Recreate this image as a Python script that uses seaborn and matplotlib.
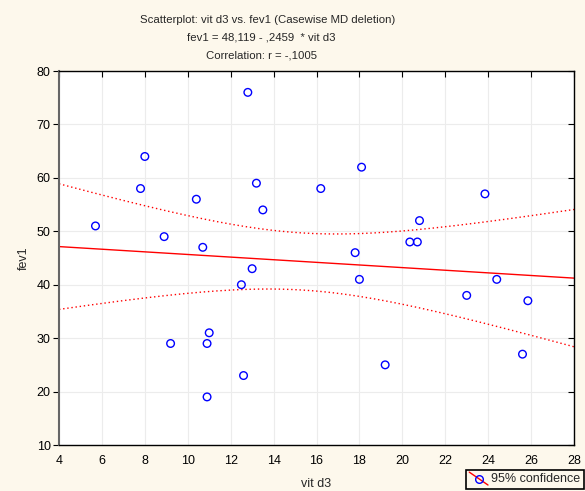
import numpy as np
import matplotlib
matplotlib.use("Agg")
import matplotlib.pyplot as plt
import seaborn as sns
from matplotlib.lines import Line2D
from matplotlib.legend_handler import HandlerBase

# Data
vit_d3 = [5.7, 7.8, 8.0, 8.9, 9.2, 10.4, 10.7, 10.9, 11.0, 10.9, 12.5, 12.6, 12.8, 13.0, 13.2,
          13.5, 16.2, 17.8, 18.0, 18.1, 19.2, 20.35, 20.7, 20.8, 23.0, 23.85, 24.4, 25.6, 25.85]
fev1 = [51, 58, 64, 49, 29, 56, 47, 29, 31, 19, 40, 23, 76, 43, 59,
        54, 58, 46, 41, 62, 25, 48, 48, 52, 38, 57, 41, 27, 37]
x_ticks = [4, 6, 8, 10, 12, 14, 16, 18, 20, 22, 24, 26, 28]
y_ticks = [10, 20, 30, 40, 50, 60, 70, 80]
# regression coefficients as printed in the chart title
intercept = 48.119
slope = -0.2459

x = np.array(vit_d3)
y = np.array(fev1)
n = len(x)

# regression line and 95% confidence band for the mean
xs = np.linspace(4, 28, 200)
yhat = intercept + slope * xs
resid = y - (intercept + slope * x)
s = np.sqrt(np.sum(resid ** 2) / (n - 2))
sxx = np.sum((x - x.mean()) ** 2)
t = 2.052  # t(0.975, 27)
half = t * s * np.sqrt(1 / n + (xs - x.mean()) ** 2 / sxx)

sns.set_theme(style="white")
plt.rcParams['font.family'] = ['Liberation Sans', 'DejaVu Sans']

fig = plt.figure(figsize=(5.85, 4.91), dpi=100, facecolor='#fdf8ec')
ax = fig.add_axes([59 / 585, 1 - 445 / 491, 515 / 585, 374 / 491])
ax.set_facecolor('white')

ax.plot(xs, yhat, color='#ff0000', lw=1)
ax.plot(xs, yhat + half, color='#ff0000', lw=1, ls=(0, (1, 2)))
ax.plot(xs, yhat - half, color='#ff0000', lw=1, ls=(0, (1, 2)))
sns.scatterplot(x=x, y=y, ax=ax, marker='o', s=30, facecolor='none',
                edgecolor='#0000ff', linewidth=1, zorder=3)

ax.set_xlim(4, 28)
ax.set_ylim(10, 80)
ax.set_xticks(x_ticks)
ax.set_yticks(y_ticks)
ax.grid(True, color='#ececec', lw=0.8)
ax.tick_params(labelsize=9, colors='black', width=0.8)
ax.tick_params(axis='x', direction='in', length=4, top=True, pad=7)
ax.tick_params(axis='y', which='both', left=True, right=True, length=4)
ax.yaxis.set_tick_params(which='major', direction='out', pad=2)
for tk in ax.yaxis.get_major_ticks():
    tk.tick2line.set_marker(matplotlib.lines.TICKLEFT)
for sp in ax.spines.values():
    sp.set_color('black')
    sp.set_linewidth(1)
ax.spines['left'].set_color('#666666')
ax.spines['left'].set_linewidth(1.5)
ax.set_xlabel('vit d3', fontsize=9, labelpad=8)
ax.set_ylabel('fev1', fontsize=9, labelpad=5)

fig.text(268 / 585, 1 - 20 / 491, 'Scatterplot: vit d3 vs. fev1 (Casewise MD deletion)', ha='center', va='center', fontsize=8.2)
fig.text(261 / 585, 1 - 38 / 491, 'fev1 = 48,119 - ,2459  * vit d3', ha='center', va='center', fontsize=8.2)
fig.text(262 / 585, 1 - 55 / 491, 'Correlation: r = -,1005', ha='center', va='center', fontsize=8.2)


class DiagHandler(HandlerBase):
    def create_artists(self, legend, orig, xd, yd, w, h, fontsize, trans):
        x0, y0 = -xd, -yd
        line = Line2D([x0, x0 + w], [y0 + h + 1, y0 - 2], color='#ff0000', lw=1, transform=trans)
        mk = Line2D([x0 + w / 2], [y0 + h / 2 - 0.5], marker='o', ms=5.5, mfc='none',
                    mec='#0000ff', mew=1, ls='none', transform=trans)
        return [line, mk]


handle = Line2D([], [])
leg = fig.legend([handle], ['95% confidence'], handler_map={Line2D: DiagHandler()},
                 loc='lower right', bbox_to_anchor=(584 / 585, 2 / 491), fontsize=9, frameon=True,
                 fancybox=False, edgecolor='black', framealpha=1, handlelength=1.5,
                 borderpad=0.3, handletextpad=0.25, borderaxespad=0.0, facecolor='#fdf8ec')
leg.get_frame().set_linewidth(1.2)

fig.savefig('out.png', dpi=100, facecolor=fig.get_facecolor())
